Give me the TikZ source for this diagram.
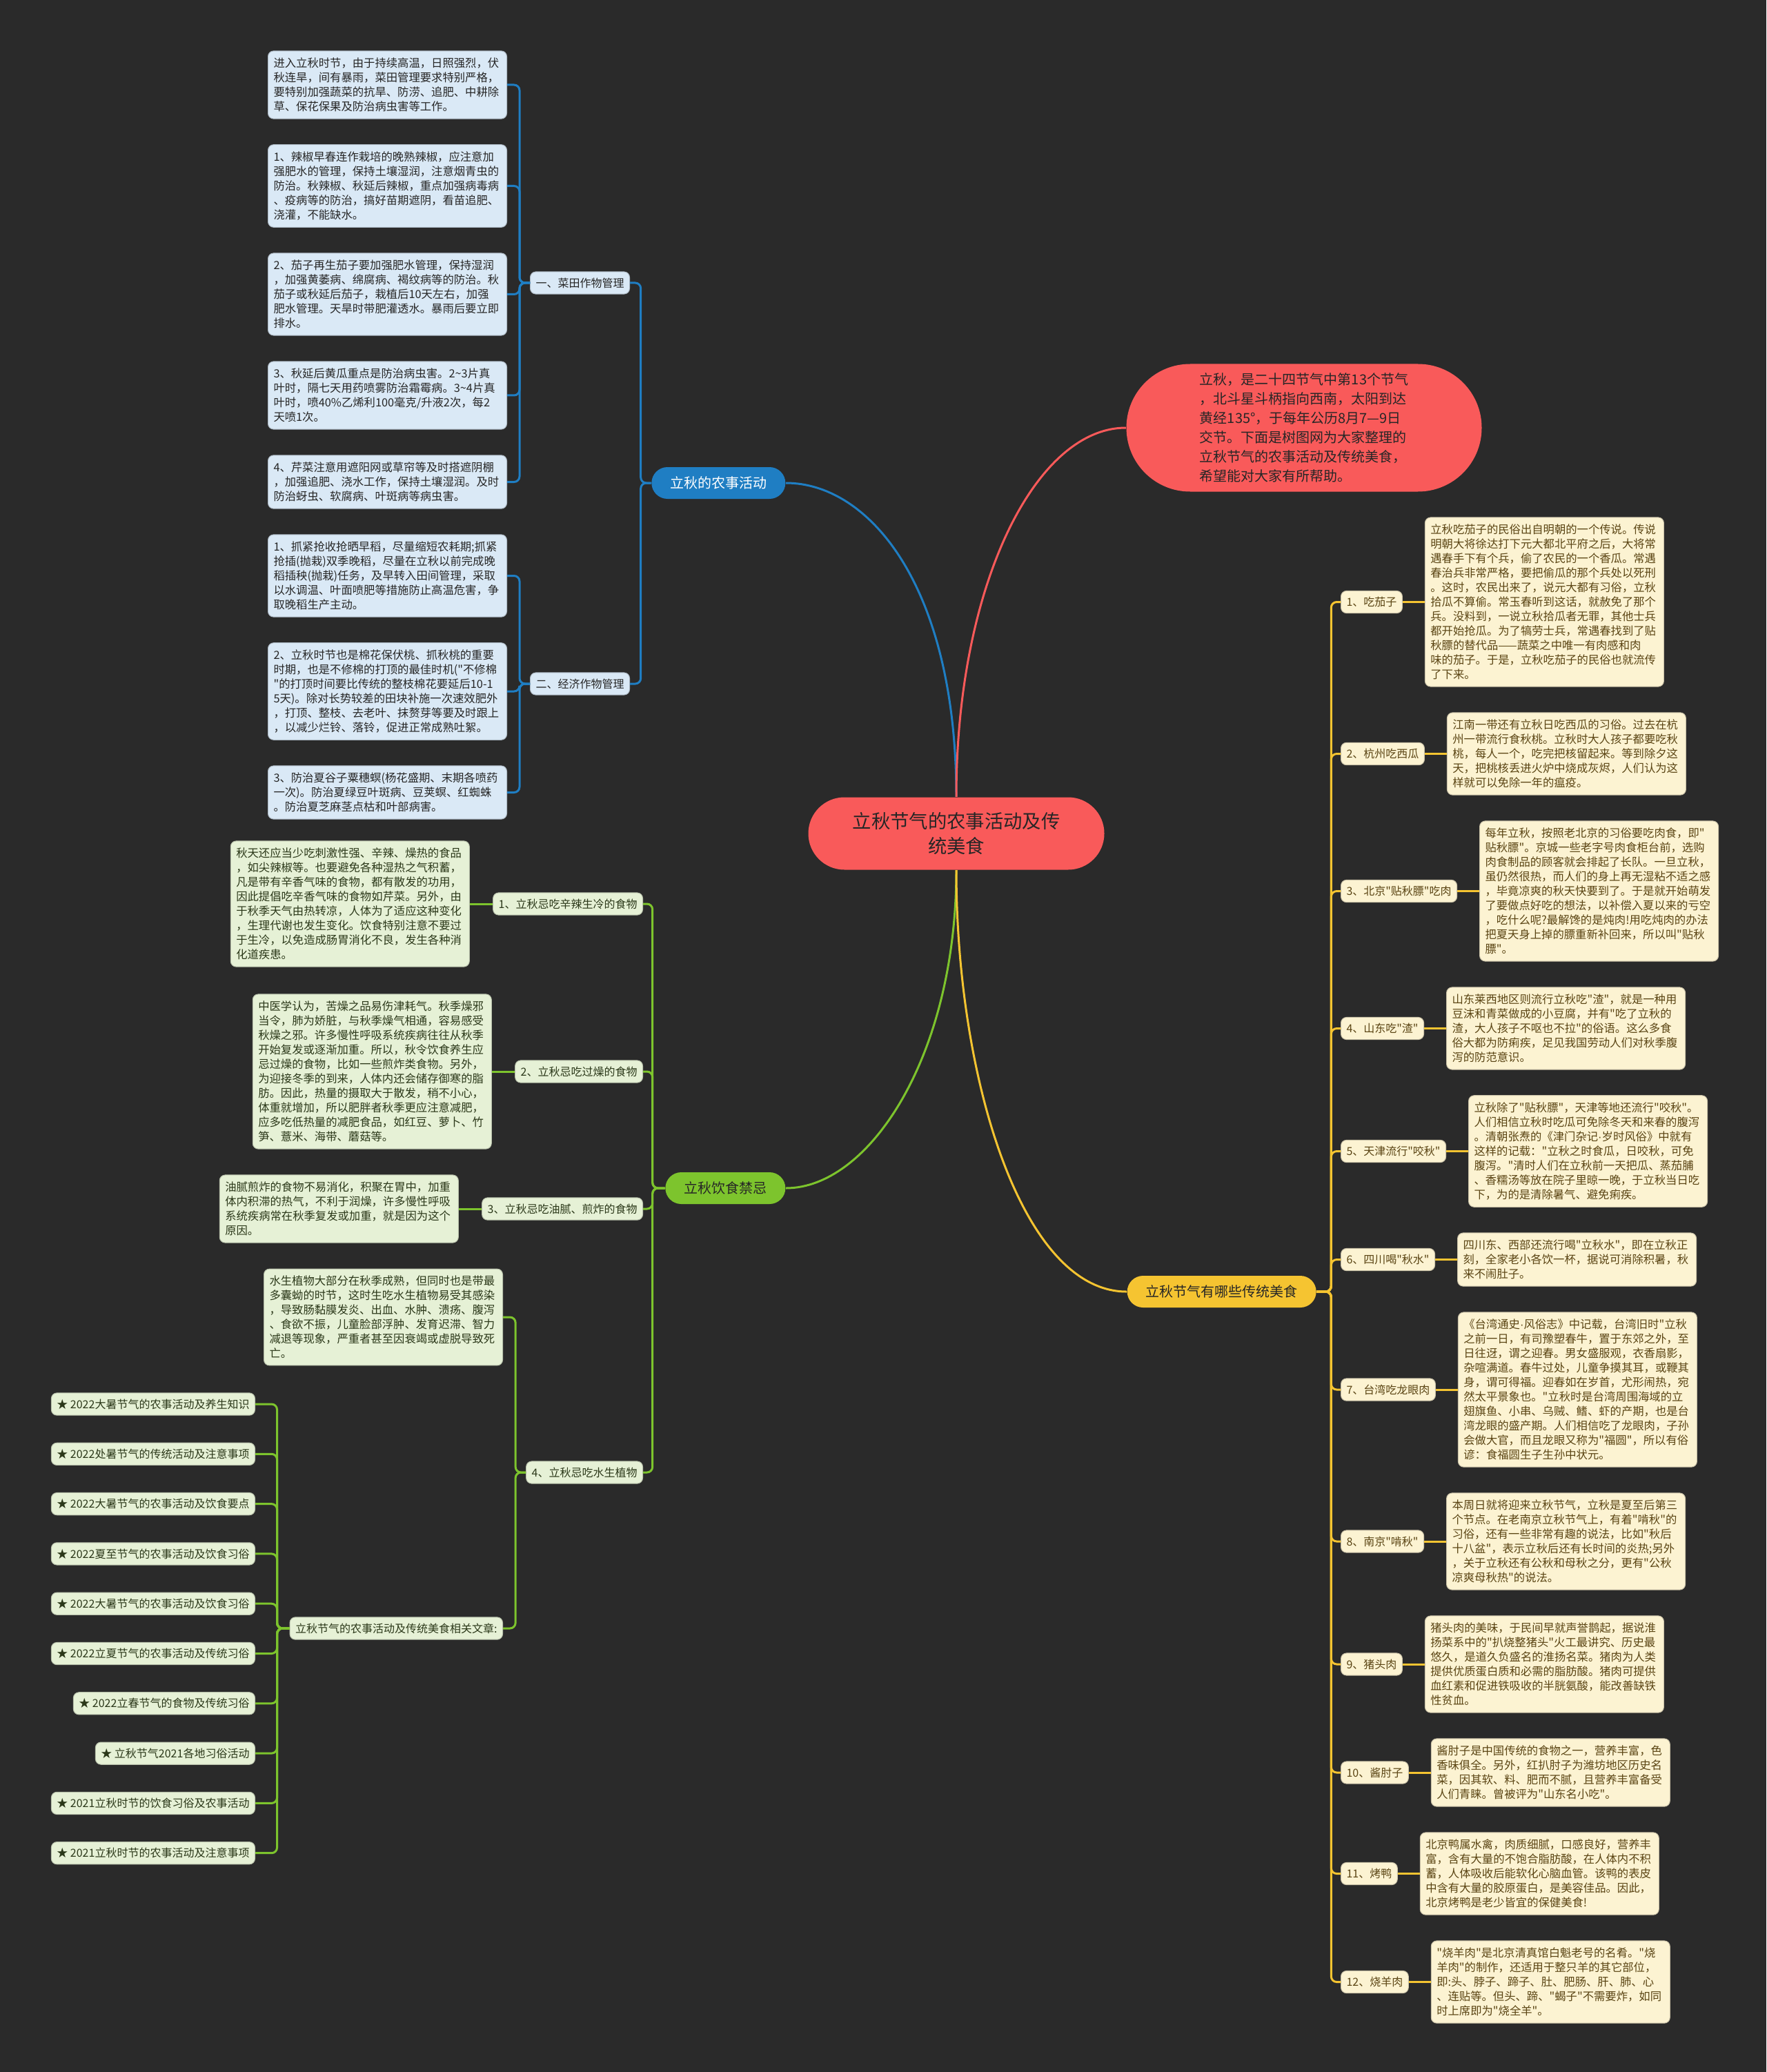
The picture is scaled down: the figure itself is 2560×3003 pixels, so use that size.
\documentclass[tikz,border=0pt]{standalone}
\usepackage{fontspec}
\defaultfontfeatures[\rmfamily,\sffamily]{}
\setmainfont{Noto Sans CJK SC}
\newfontfamily\latinf{Liberation Sans}
\usetikzlibrary{positioning}
\definecolor{bg}{HTML}{2A2A2A}
\definecolor{rootred}{HTML}{F95A5A}
\definecolor{farmblue}{HTML}{1F7EC3}
\definecolor{dietgreen}{HTML}{7DC42D}
\definecolor{foodgold}{HTML}{F5C431}
\definecolor{bleaf}{HTML}{DAE9F6}
\definecolor{gleaf}{HTML}{E6F1D6}
\definecolor{yleaf}{HTML}{FCF3D2}
\definecolor{ink}{HTML}{262626}
\definecolor{gink}{HTML}{2B3819}
\definecolor{yink}{HTML}{5A4413}
\newcommand{\mdot}{{\latinf ·}}

\begin{document}
\begin{tikzpicture}[x=0.3pt,y=-0.3pt,
  root/.style={fill=rootred,text=ink,rounded corners=15.7pt,minimum width=128.7pt,
               minimum height=31.5pt,align=center,font=\fontsize{8.2}{10.8}\selectfont},
  intro/.style={fill=rootred,text=ink,rounded corners=27.7pt,minimum width=154.5pt,
                minimum height=55.5pt,align=left,font=\fontsize{6}{8.4}\selectfont},
  branch/.style={rounded corners=6.9pt,minimum height=13.8pt,inner xsep=8.1pt,
                 font=\fontsize{6}{7}\selectfont},
  tag/.style={rounded corners=2.4pt,inner xsep=2.4pt,inner ysep=2.6pt,line width=0.3pt,
              font=\fontsize{4.8}{6}\selectfont},
  txt/.style={rounded corners=2.4pt,text width=99pt,align=left,inner xsep=2.4pt,
              inner ysep=3pt,line width=0.3pt,font=\fontsize{4.9}{6.3}\selectfont},
  btag/.style={tag,fill=bleaf,draw=bleaf!80!black,text=ink},
  gtag/.style={tag,fill=gleaf,draw=gleaf!80!black,text=gink},
  ytag/.style={tag,fill=yleaf,draw=yleaf!80!black,text=yink},
  btxt/.style={txt,fill=bleaf,draw=bleaf!80!black,text=ink},
  gtxt/.style={txt,fill=gleaf,draw=gleaf!80!black,text=gink},
  ytxt/.style={txt,fill=yleaf,draw=yleaf!80!black,text=yink},
  curve/.style={line width=0.9pt},
  bl/.style={farmblue,line width=0.9pt,rounded corners=2.4pt},
  gl/.style={dietgreen,line width=0.9pt,rounded corners=2.4pt},
  yl/.style={foodgold,line width=0.9pt,rounded corners=2.4pt}
]
\useasboundingbox (0,0) rectangle (2560,3003);
\fill[bg] (0,0) rectangle (2560,3003);

% centre
\node[root] (root) at (1386,1208) {立秋节气的农事活动及传\\统美食};
\node[intro] (intro) at (1890,620) {立秋，是二十四节气中第13个节气\\，北斗星斗柄指向西南，太阳到达\\黄经135°，于每年公历8月7—9日\\交节。下面是树图网为大家整理的\\立秋节气的农事活动及传统美食，\\希望能对大家有所帮助。};

% main branches
\node[branch,fill=farmblue,text=white,anchor=east] (farm) at (1139,700) {立秋的农事活动};
\node[branch,fill=dietgreen,text=ink,anchor=east] (diet) at (1139,1722) {立秋饮食禁忌};
\node[branch,fill=foodgold,text=ink,anchor=west] (food) at (1633,1872) {立秋节气有哪些传统美食};

% farming
\node[btag,anchor=east] (veg)  at (913,410) {一、菜田作物管理};
\node[btag,anchor=east] (crop) at (913,991) {二、经济作物管理};
\node[btxt,anchor=east] (v1) at (735,123) {进入立秋时节，由于持续高温，日照强烈，伏\\秋连旱，间有暴雨，菜田管理要求特别严格，\\要特别加强蔬菜的抗旱、防涝、追肥、中耕除\\草、保花保果及防治病虫害等工作。};
\node[btxt,anchor=east] (v2) at (735,269.5) {1、辣椒早春连作栽培的晚熟辣椒，应注意加\\强肥水的管理，保持土壤湿润，注意烟青虫的\\防治。秋辣椒、秋延后辣椒，重点加强病毒病\\、疫病等的防治，搞好苗期遮阴，看苗追肥、\\浇灌，不能缺水。};
\node[btxt,anchor=east] (v3) at (735,426.5) {2、茄子再生茄子要加强肥水管理，保持湿润\\，加强黄萎病、绵腐病、褐纹病等的防治。秋\\茄子或秋延后茄子，栽植后10天左右，加强\\肥水管理。天旱时带肥灌透水。暴雨后要立即\\排水。};
\node[btxt,anchor=east] (v4) at (735,573) {3、秋延后黄瓜重点是防治病虫害。2\textasciitilde 3片真\\叶时，隔七天用药喷雾防治霜霉病。3\textasciitilde 4片真\\叶时，喷40\%乙烯利100毫克/升液2次，每2\\天喷1次。};
\node[btxt,anchor=east] (v5) at (735,698.5) {4、芹菜注意用遮阳网或草帘等及时搭遮阴棚\\，加强追肥、浇水工作，保持土壤湿润。及时\\防治蚜虫、软腐病、叶斑病等病虫害。};
\node[btxt,anchor=east] (c1) at (735,834.5) {1、抓紧抢收抢晒早稻，尽量缩短农耗期;抓紧\\抢插(抛栽)双季晚稻，尽量在立秋以前完成晚\\稻插秧(抛栽)任务，及早转入田间管理，采取\\以水调温、叶面喷肥等措施防止高温危害，争\\取晚稻生产主动。};
\node[btxt,anchor=east] (c2) at (735,1002) {2、立秋时节也是棉花保伏桃、抓秋桃的重要\\时期，也是不修棉的打顶的最佳时机("不修棉\\"的打顶时间要比传统的整枝棉花要延后10-1\\5天)。除对长势较差的田块补施一次速效肥外\\，打顶、整枝、去老叶、抹赘芽等要及时跟上\\，以减少烂铃、落铃，促进正常成熟吐絮。};
\node[btxt,anchor=east] (c3) at (735,1148.5) {3、防治夏谷子粟穗螟(杨花盛期、末期各喷药\\一次)。防治夏绿豆叶斑病、豆荚螟、红蜘蛛\\。防治夏芝麻茎点枯和叶部病害。};

% diet taboos
\node[gtag,anchor=east] (d1) at (932,1310) {1、立秋忌吃辛辣生冷的食物};
\node[gtag,anchor=east] (d2) at (932,1553) {2、立秋忌吃过燥的食物};
\node[gtag,anchor=east] (d3) at (932,1752) {3、立秋忌吃油腻、煎炸的食物};
\node[gtag,anchor=east] (d4) at (932,2134) {4、立秋忌吃水生植物};
\node[gtxt,left=10pt of d1] (dt1) {秋天还应当少吃刺激性强、辛辣、燥热的食品\\，如尖辣椒等。也要避免各种湿热之气积蓄，\\凡是带有辛香气味的食物，都有散发的功用，\\因此提倡吃辛香气味的食物如芹菜。另外，由\\于秋季天气由热转凉，人体为了适应这种变化\\，生理代谢也发生变化。饮食特别注意不要过\\于生冷，以免造成肠胃消化不良，发生各种消\\化道疾患。};
\node[gtxt,left=10pt of d2] (dt2) {中医学认为，苦燥之品易伤津耗气。秋季燥邪\\当令，肺为娇脏，与秋季燥气相通，容易感受\\秋燥之邪。许多慢性呼吸系统疾病往往从秋季\\开始复发或逐渐加重。所以，秋令饮食养生应\\忌过燥的食物，比如一些煎炸类食物。另外，\\为迎接冬季的到来，人体内还会储存御寒的脂\\肪。因此，热量的摄取大于散发，稍不小心，\\体重就增加，所以肥胖者秋季更应注意减肥，\\应多吃低热量的减肥食品，如红豆、萝卜、竹\\笋、薏米、海带、蘑菇等。};
\node[gtxt,left=10pt of d3] (dt3) {油腻煎炸的食物不易消化，积聚在胃中，加重\\体内积滞的热气，不利于润燥，许多慢性呼吸\\系统疾病常在秋季复发或加重，就是因为这个\\原因。};
\node[gtxt,anchor=east] (dt4) at (729,1909) {水生植物大部分在秋季成熟，但同时也是带最\\多囊蚴的时节，这时生吃水生植物易受其感染\\，导致肠黏膜发炎、出血、水肿、溃疡、腹泻\\、食欲不振，儿童脸部浮肿、发育迟滞、智力\\减退等现象，严重者甚至因衰竭或虚脱导致死\\亡。};
\node[gtag,anchor=east] (rel) at (729,2360) {立秋节气的农事活动及传统美食相关文章:};
\foreach \t [count=\i] in {2022大暑节气的农事活动及养生知识,2022处暑节气的传统活动及注意事项,
  2022大暑节气的农事活动及饮食要点,2022夏至节气的农事活动及饮食习俗,2022大暑节气的农事活动及饮食习俗,
  2022立夏节气的农事活动及传统习俗,2022立春节气的食物及传统习俗,立秋节气2021各地习俗活动,
  2021立秋时节的饮食习俗及农事活动,2021立秋时节的农事活动及注意事项}
  \node[gtag,anchor=east] (a\i) at (370,{2035+72.3*(\i-1)}) {★ \t};

% traditional food
\node[ytag,anchor=west] (f1)  at (1943,872.5)  {1、吃茄子};
\node[ytag,anchor=west] (f2)  at (1943,1092.5) {2、杭州吃西瓜};
\node[ytag,anchor=west] (f3)  at (1943,1291.5) {3、北京"贴秋膘"吃肉};
\node[ytag,anchor=west] (f4)  at (1943,1490.5) {4、山东吃"渣"};
\node[ytag,anchor=west] (f5)  at (1943,1668.5) {5、天津流行"咬秋"};
\node[ytag,anchor=west] (f6)  at (1943,1825.5) {6、四川喝"秋水"};
\node[ytag,anchor=west] (f7)  at (1943,2014)   {7、台湾吃龙眼肉};
\node[ytag,anchor=west] (f8)  at (1943,2234)   {8、南京"啃秋"};
\node[ytag,anchor=west] (f9)  at (1943,2412)   {9、猪头肉};
\node[ytag,anchor=west] (f10) at (1943,2569)   {10、酱肘子};
\node[ytag,anchor=west] (f11) at (1943,2715.5) {11、烤鸭};
\node[ytag,anchor=west] (f12) at (1943,2872.5) {12、烧羊肉};
\node[ytxt,right=9.6pt of f1] (ft1) {立秋吃茄子的民俗出自明朝的一个传说。传说\\明朝大将徐达打下元大都北平府之后，大将常\\遇春手下有个兵，偷了农民的一个香瓜。常遇\\春治兵非常严格，要把偷瓜的那个兵处以死刑\\。这时，农民出来了，说元大都有习俗，立秋\\拾瓜不算偷。常玉春听到这话，就赦免了那个\\兵。没料到，一说立秋拾瓜者无罪，其他士兵\\都开始抢瓜。为了犒劳士兵，常遇春找到了贴\\秋膘的替代品——蔬菜之中唯一有肉感和肉\\味的茄子。于是，立秋吃茄子的民俗也就流传\\了下来。};
\node[ytxt,right=9.6pt of f2] (ft2) {江南一带还有立秋日吃西瓜的习俗。过去在杭\\州一带流行食秋桃。立秋时大人孩子都要吃秋\\桃，每人一个，吃完把核留起来。等到除夕这\\天，把桃核丢进火炉中烧成灰烬，人们认为这\\样就可以免除一年的瘟疫。};
\node[ytxt,right=9.6pt of f3] (ft3) {每年立秋，按照老北京的习俗要吃肉食，即"\\贴秋膘"。京城一些老字号肉食柜台前，选购\\肉食制品的顾客就会排起了长队。一旦立秋，\\虽仍然很热，而人们的身上再无湿粘不适之感\\，毕竟凉爽的秋天快要到了。于是就开始萌发\\了要做点好吃的想法，以补偿入夏以来的亏空\\，吃什么呢?最解馋的是炖肉!用吃炖肉的办法\\把夏天身上掉的膘重新补回来，所以叫"贴秋\\膘"。};
\node[ytxt,right=9.6pt of f4] (ft4) {山东莱西地区则流行立秋吃"渣"，就是一种用\\豆沫和青菜做成的小豆腐，并有"吃了立秋的\\渣，大人孩子不呕也不拉"的俗语。这么多食\\俗大都为防痢疾，足见我国劳动人们对秋季腹\\泻的防范意识。};
\node[ytxt,right=9.6pt of f5] (ft5) {立秋除了"贴秋膘"，天津等地还流行"咬秋"。\\人们相信立秋时吃瓜可免除冬天和来春的腹泻\\。清朝张焘的《津门杂记\mdot 岁时风俗》中就有\\这样的记载："立秋之时食瓜，日咬秋，可免\\腹泻。"清时人们在立秋前一天把瓜、蒸茄脯\\、香糯汤等放在院子里晾一晚，于立秋当日吃\\下，为的是清除暑气、避免痢疾。};
\node[ytxt,right=9.6pt of f6] (ft6) {四川东、西部还流行喝"立秋水"，即在立秋正\\刻，全家老小各饮一杯，据说可消除积暑，秋\\来不闹肚子。};
\node[ytxt,right=9.6pt of f7] (ft7) {《台湾通史\mdot 风俗志》中记载，台湾旧时"立秋\\之前一日，有司豫塑春牛，置于东郊之外，至\\日往迓，谓之迎春。男女盛服观，衣香扇影，\\杂喧满道。春牛过处，儿童争摸其耳，或鞭其\\身，谓可得福。迎春如在岁首，尤形闹热，宛\\然太平景象也。"立秋时是台湾周围海域的立\\翅旗鱼、小串、乌贼、鳍、虾的产期，也是台\\湾龙眼的盛产期。人们相信吃了龙眼肉，子孙\\会做大官，而且龙眼又称为"福圆"，所以有俗\\谚：食福圆生子生孙中状元。};
\node[ytxt,right=9.6pt of f8] (ft8) {本周日就将迎来立秋节气，立秋是夏至后第三\\个节点。在老南京立秋节气上，有着"啃秋"的\\习俗，还有一些非常有趣的说法，比如"秋后\\十八盆"，表示立秋后还有长时间的炎热;另外\\，关于立秋还有公秋和母秋之分，更有"公秋\\凉爽母秋热"的说法。};
\node[ytxt,right=9.6pt of f9] (ft9) {猪头肉的美味，于民间早就声誉鹊起，据说淮\\扬菜系中的"扒烧整猪头"火工最讲究、历史最\\悠久，是道久负盛名的淮扬名菜。猪肉为人类\\提供优质蛋白质和必需的脂肪酸。猪肉可提供\\血红素和促进铁吸收的半胱氨酸，能改善缺铁\\性贫血。};
\node[ytxt,right=9.6pt of f10] (ft10) {酱肘子是中国传统的食物之一，营养丰富，色\\香味俱全。另外，红扒肘子为潍坊地区历史名\\菜，因其软、料、肥而不腻，且营养丰富备受\\人们青睐。曾被评为"山东名小吃"。};
\node[ytxt,right=9.6pt of f11] (ft11) {北京鸭属水禽，肉质细腻，口感良好，营养丰\\富，含有大量的不饱合脂肪酸，在人体内不积\\蓄，人体吸收后能软化心脑血管。该鸭的表皮\\中含有大量的胶原蛋白，是美容佳品。因此，\\北京烤鸭是老少皆宜的保健美食!};
\node[ytxt,right=9.6pt of f12] (ft12) {"烧羊肉"是北京清真馆白魁老号的名肴。"烧\\羊肉"的制作，还适用于整只羊的其它部位，\\即:头、脖子、蹄子、肚、肥肠、肝、肺、心\\、连贴等。但头、蹄、"蝎子"不需要炸，如同\\时上席即为"烧全羊"。};

% curves out of the centre
\draw[curve,farmblue]  (root.north) .. controls (1386,850) and (1260,700) .. (farm.east);
\draw[curve,rootred]   (root.north) .. controls (1386,850) and (1500,620) .. (intro.west);
\draw[curve,dietgreen] (root.south) .. controls (1386,1530) and (1260,1722) .. (diet.east);
\draw[curve,foodgold]  (root.south) .. controls (1386,1560) and (1480,1872) .. (food.west);

% tree links
\foreach \n in {veg,crop} \draw[bl] (farm.west) -- ++(-15,0) |- (\n.east);
\foreach \n in {v1,v2,v3,v4,v5} \draw[bl] (veg.west) -- ++(-15,0) |- (\n.east);
\foreach \n in {c1,c2,c3} \draw[bl] (crop.west) -- ++(-15,0) |- (\n.east);
\foreach \n in {d1,d2,d3,d4} \draw[gl] (diet.west) -- ++(-18,0) |- (\n.east);
\foreach \n in {1,2,3} \draw[gl] (d\n.west) -- (dt\n.east);
\foreach \n in {dt4,rel} \draw[gl] (d4.west) -- ++(-15,0) |- (\n.east);
\foreach \n in {1,...,10} \draw[gl] (rel.west) -- ++(-18,0) |- (a\n.east);
\foreach \n in {1,...,12} {
  \draw[yl] (food.east) -- ++(21,0) |- (f\n.west);
  \draw[yl] (f\n.east) -- (ft\n.west);
}
\end{tikzpicture}
\end{document}
